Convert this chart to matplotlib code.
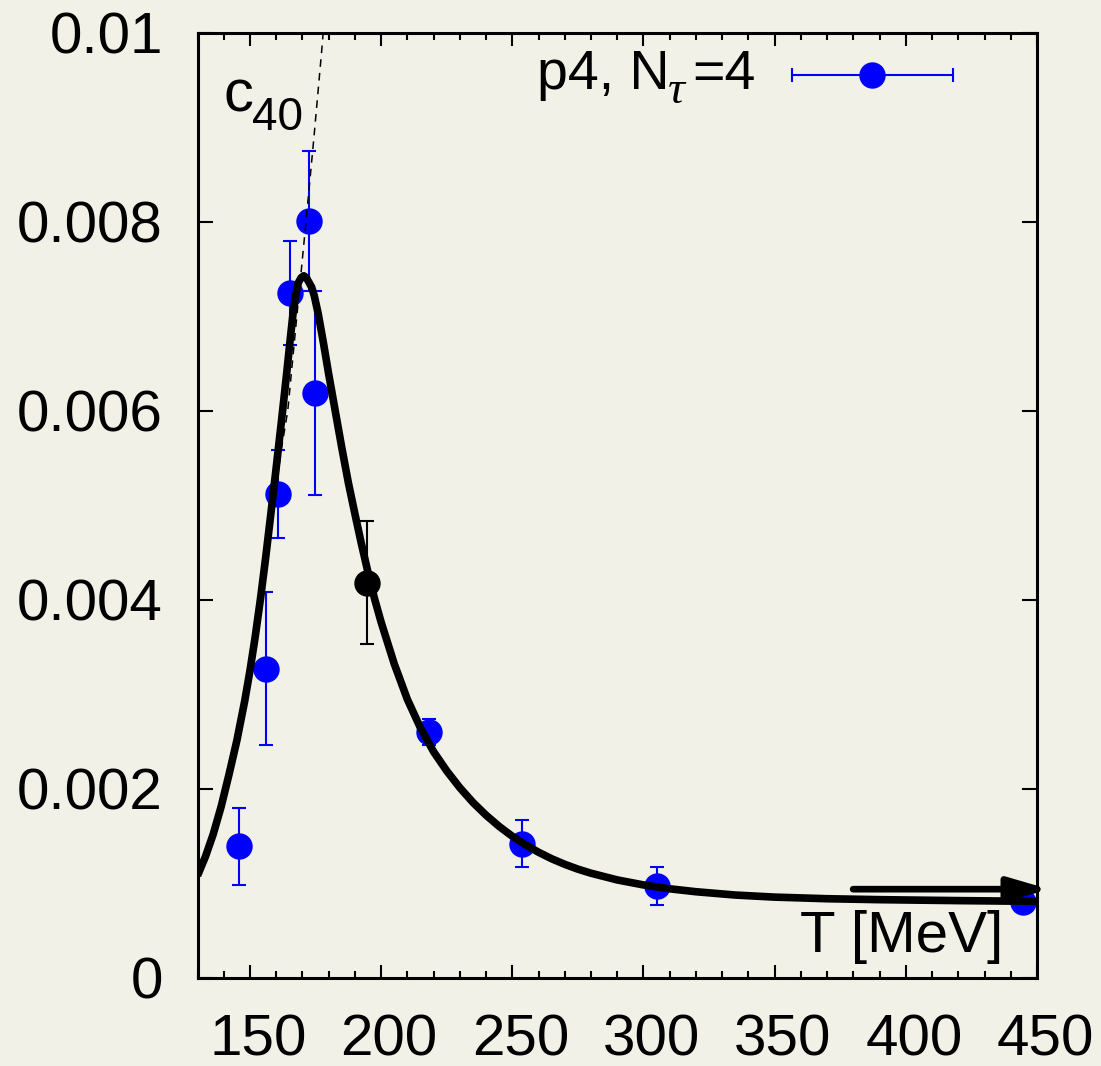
import numpy as np
import matplotlib.pyplot as plt
from matplotlib.ticker import MultipleLocator
from matplotlib.transforms import ScaledTranslation

plt.rcParams['font.family'] = ['Liberation Sans', 'DejaVu Sans']

# p4, N_tau=4 lattice points
T_pts = [145.8, 156.1, 160.8, 165.25, 172.4, 174.8, 218.2, 253.8, 305.0, 444.5]
c40_pts = [0.00139, 0.00327, 0.00512, 0.00725, 0.00801, 0.00619, 0.00260, 0.00142, 0.00097, 0.00080]
c40_err = [0.00041, 0.00081, 0.00047, 0.00055, 0.00074, 0.00108, 0.00014, 0.00025, 0.00020, 0.00005]

# the black point
T_blk = [194.5]
c40_blk = [0.00418]
c40_blk_err = [0.00065]

# fit curve
T_fit = [130.0, 133.0, 136.0, 139.0, 142.0, 145.0, 148.0, 150.0, 152.0, 154.0, 156.0,
         158.0, 160.0, 162.0, 164.0, 165.5, 166.5, 167.5, 168.5, 169.5, 170.5, 171.5,
         172.5, 173.5, 174.5, 176.0, 178.0, 180.0, 182.5, 185.0, 187.5, 190.0, 192.5,
         195.0, 197.5, 200.0, 205.0, 210.0, 215.0, 220.0, 225.0, 230.0, 235.0, 240.0,
         245.0, 250.0, 255.0, 260.0, 265.0, 270.0, 275.0, 280.0, 290.0, 300.0, 310.0,
         320.0, 335.0, 350.0, 370.0, 390.0, 420.0, 450.0]
c40_fit = [0.001080, 0.001280, 0.001520, 0.001810, 0.002150, 0.002510, 0.002930, 0.003250,
           0.003610, 0.004010, 0.004450, 0.004920, 0.005400, 0.005890, 0.006400, 0.006800,
           0.007050, 0.007240, 0.007360, 0.007410, 0.007430, 0.007410, 0.007360, 0.007310,
           0.007220, 0.007030, 0.006720, 0.006390, 0.006000, 0.005610, 0.005240, 0.004910,
           0.004590, 0.004290, 0.004010, 0.003763, 0.003322, 0.002946, 0.002644, 0.002392,
           0.002189, 0.002011, 0.001855, 0.001720, 0.001601, 0.001497, 0.001407, 0.001328,
           0.001259, 0.001200, 0.001149, 0.001106, 0.001035, 0.000982, 0.000941, 0.000910,
           0.000875, 0.000853, 0.000836, 0.000826, 0.000816, 0.000808]

# dotted line near Tc
T_dot = [160.5, 162.0, 164.4, 167.5, 171.0, 174.4, 177.3, 177.9]
c40_dot = [0.0053, 0.0056, 0.0060, 0.0069, 0.0079, 0.0089, 0.0098, 0.0100]

xticks = [150, 200, 250, 300, 350, 400, 450]
yticks = [0, 0.002, 0.004, 0.006, 0.008, 0.01]
ylabels = ['0', '0.002', '0.004', '0.006', '0.008', '0.01']

bg = '#f2f1e7'
blue = '#0000ff'
W, H = 1101, 1066


def px(x, y):
    return x / W, 1 - y / H


fig = plt.figure(figsize=(W / 100, H / 100), dpi=100, facecolor=bg)
ax = fig.add_axes([197.5 / W, 1 - 977.7 / H, (1037 - 197.5) / W, (977.7 - 33) / H])
ax.set_facecolor(bg)

ax.errorbar(T_pts, c40_pts, yerr=c40_err, fmt='o', color=blue, ms=18, mec=blue,
            elinewidth=1.5, capsize=5, capthick=1.5, zorder=3)
ax.errorbar(T_blk, c40_blk, yerr=c40_blk_err, fmt='o', color='k', ms=18, mec='k',
            elinewidth=1.5, capsize=5, capthick=1.5, zorder=3)
ax.plot(T_dot, c40_dot, color='k', lw=1.1, dashes=(5, 4), zorder=4)
ax.plot(T_fit, c40_fit, color='k', lw=5.5, zorder=5, solid_capstyle='butt',
        solid_joinstyle='round')

ax.annotate('', xy=(454.6, 0.000937), xytext=(379.9, 0.000937),
            arrowprops=dict(arrowstyle='-|>,head_length=1.2,head_width=0.35', lw=4.8,
                            color='k', shrinkA=0, shrinkB=0, mutation_scale=20),
            annotation_clip=False, zorder=6)

ax.set_xlim(130, 450)
ax.set_ylim(0, 0.01)
ax.set_xticks(xticks)
ax.set_xticklabels([str(t) for t in xticks])
ax.xaxis.set_minor_locator(MultipleLocator(10))
ax.set_yticks(yticks)
ax.set_yticklabels(ylabels)

for s in ax.spines.values():
    s.set_linewidth(2.2)
ax.tick_params(axis='x', which='major', direction='in', length=9.5, width=1.5,
               top=True, labelsize=42, pad=26)
ax.tick_params(axis='x', which='minor', direction='in', length=5, width=1.5, top=True)
ax.tick_params(axis='y', which='major', direction='in', length=11, width=1.5,
               right=True, labelsize=42, pad=25)
for lab in ax.get_xticklabels():
    lab.set_transform(lab.get_transform() + ScaledTranslation(0.08, 0, fig.dpi_scale_trans))

# labels
fig.text(*px(223, 111.7), 'c', fontsize=43, va='baseline', ha='left')
fig.text(*px(252, 130), '40', fontsize=33, va='baseline', ha='left')
fig.text(*px(1003, 951.7), 'T [MeV]', fontsize=42, va='baseline', ha='right')

# legend
fig.text(*px(537, 89.3), 'p4, N', fontsize=40, va='baseline', ha='left')
fig.text(*px(668, 103), '\u03c4', fontsize=34, va='baseline', ha='left',
         family='Liberation Serif', style='italic')
fig.text(*px(692, 89.3), '=4', fontsize=40, va='baseline', ha='left')
lx0, ly = px(791.7, 75)
lx1, _ = px(952.7, 75)
lxm, _ = px(871.7, 75)
fig.add_artist(plt.Line2D([lx0, lx1], [ly, ly], color=blue, lw=1.5))
fig.add_artist(plt.Line2D([lx0, lx1], [ly, ly], color=blue, lw=0, marker='|', ms=9.5, mew=1.5))
fig.add_artist(plt.Line2D([lxm], [ly], color=blue, lw=0, marker='o', ms=18))

fig.savefig('out.png', dpi=100, facecolor=bg)
